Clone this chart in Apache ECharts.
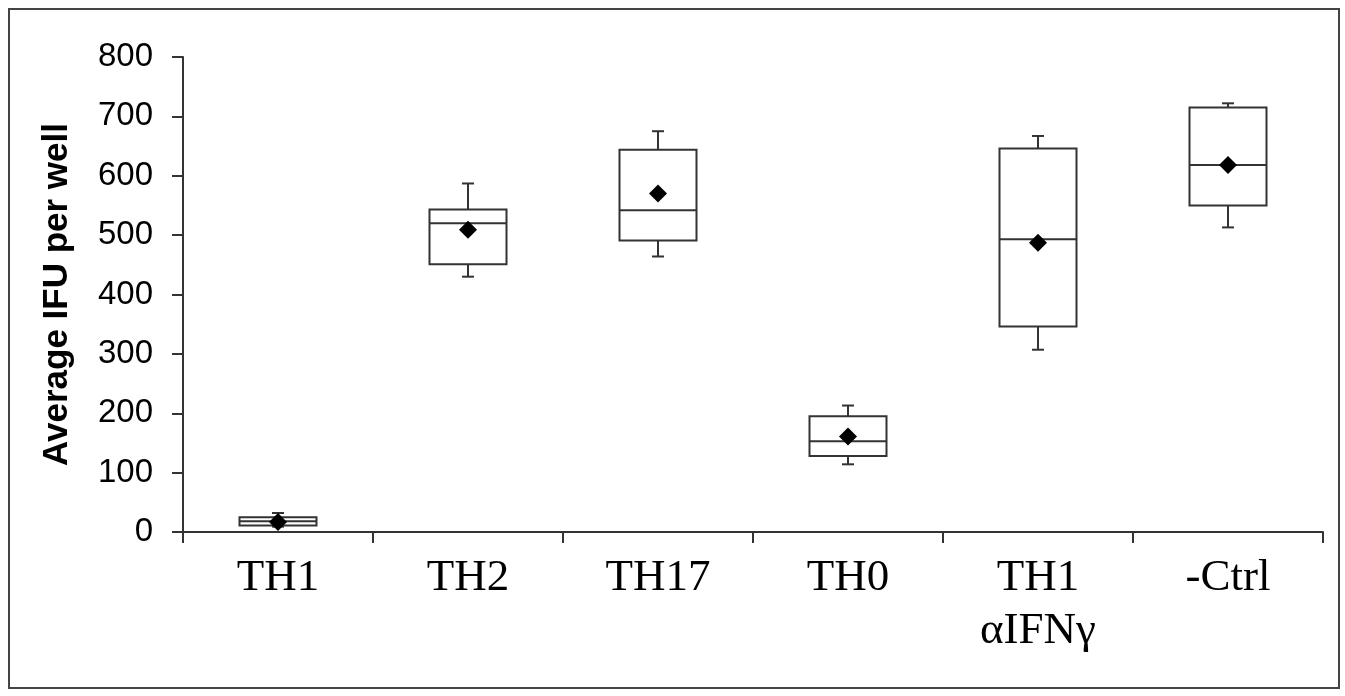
<!DOCTYPE html>
<html><head><meta charset="utf-8">
<script src="https://cdn.jsdelivr.net/npm/echarts@6/dist/echarts.min.js"></script>
<style>html,body{margin:0;padding:0;background:#fff}#c{width:1345px;height:696px}</style>
</head><body><div id="c"></div>
<script>
var categories = ['TH1', 'TH2', 'TH17', 'TH0', 'TH1\nαIFNγ', '-Ctrl'];
var whiskerLow  = [9, 430, 464, 114, 307, 513];
var q1          = [11, 451, 491, 128, 346, 550];
var median      = [18, 520, 542, 153, 493, 618];
var q3          = [25, 543, 644, 195, 646, 715];
var whiskerHigh = [32, 587, 675, 213, 667, 722];
var mean        = [17, 509, 570, 161, 487, 618];
var yTicks = [0, 100, 200, 300, 400, 500, 600, 700, 800];

var data = categories.map(function (c, i) {
  return [i, whiskerLow[i], q1[i], median[i], q3[i], whiskerHigh[i], mean[i]];
});

var chart = echarts.init(document.getElementById('c'));
var lineStyle = {stroke: '#333', lineWidth: 2, fill: null};
chart.setOption({
  animation: false,
  backgroundColor: '#fff',
  graphic: [{
    type: 'rect', shape: {x: 9, y: 9, width: 1330, height: 679},
    style: {fill: null, stroke: '#444', lineWidth: 2}, z: 100
  }],
  grid: {left: 183, right: 22, top: 57, bottom: 164},
  xAxis: {
    type: 'category', data: categories, boundaryGap: true,
    axisLine: {lineStyle: {color: '#333', width: 2}},
    axisTick: {show: true, length: 11, alignWithLabel: false, lineStyle: {color: '#333', width: 2}},
    axisLabel: {color: '#000', fontFamily: 'Liberation Serif', fontSize: 45, lineHeight: 53, margin: 20, interval: 0}
  },
  yAxis: {
    type: 'value', min: 0, max: 800, interval: 100,
    name: 'Average IFU per well', nameLocation: 'middle', nameGap: 108, nameRotate: 90,
    nameTextStyle: {color: '#000', fontFamily: 'Liberation Sans', fontWeight: 'bold', fontSize: 35},
    axisLine: {show: true, lineStyle: {color: '#333', width: 2}},
    axisTick: {show: true, length: 11, lineStyle: {color: '#333', width: 2}},
    axisLabel: {color: '#000', fontFamily: 'Liberation Sans', fontSize: 33, margin: 30,
      formatter: function (v) { return yTicks.indexOf(v) >= 0 ? String(v) : ''; }},
    splitLine: {show: false}
  },
  series: [{
    type: 'custom',
    data: data,
    encode: {x: 0, y: [1, 2, 3, 4, 5, 6]},
    renderItem: function (params, api) {
      var i = api.value(0);
      var pLow = api.coord([i, api.value(1)]);
      var pQ1 = api.coord([i, api.value(2)]);
      var pMed = api.coord([i, api.value(3)]);
      var pQ3 = api.coord([i, api.value(4)]);
      var pHigh = api.coord([i, api.value(5)]);
      var pMean = api.coord([i, api.value(6)]);
      var x = pMed[0];
      var hw = 38.5, cap = 6, d = 9;
      return {
        type: 'group',
        children: [
          {type: 'line', shape: {x1: x, y1: pQ3[1], x2: x, y2: pHigh[1]}, style: lineStyle},
          {type: 'line', shape: {x1: x - cap, y1: pHigh[1], x2: x + cap, y2: pHigh[1]}, style: lineStyle},
          {type: 'line', shape: {x1: x, y1: pQ1[1], x2: x, y2: pLow[1]}, style: lineStyle},
          {type: 'line', shape: {x1: x - cap, y1: pLow[1], x2: x + cap, y2: pLow[1]}, style: lineStyle},
          {type: 'rect', shape: {x: x - hw, y: pQ3[1], width: hw * 2, height: pQ1[1] - pQ3[1]},
            style: {fill: '#fff', stroke: '#333', lineWidth: 2}},
          {type: 'line', shape: {x1: x - hw, y1: pMed[1], x2: x + hw, y2: pMed[1]}, style: lineStyle},
          {type: 'polygon', shape: {points: [[x, pMean[1] - d], [x + d, pMean[1]], [x, pMean[1] + d], [x - d, pMean[1]]]},
            style: {fill: '#000'}}
        ]
      };
    }
  }]
});
</script></body></html>
